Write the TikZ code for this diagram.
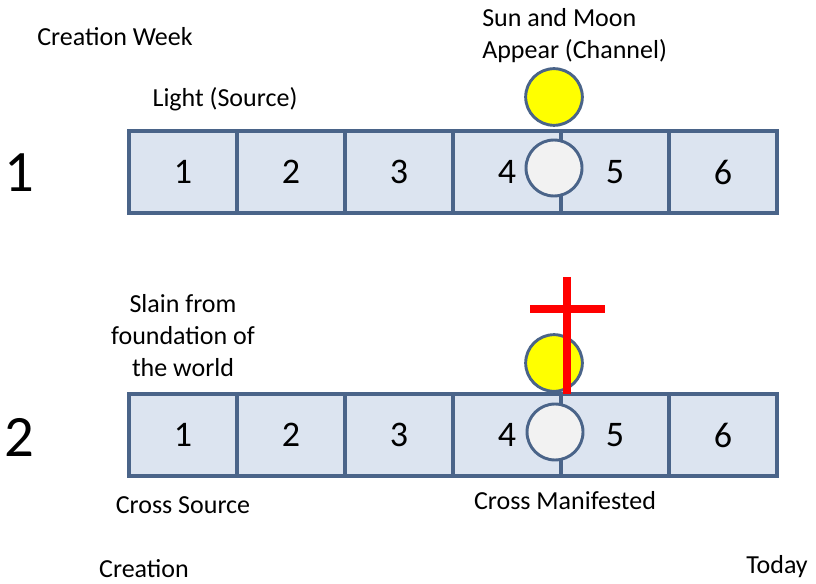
\documentclass[tikz,border=0pt]{standalone}
\usepackage{fontspec}
\setmainfont{Carlito}
\usepackage{tikz}
\usetikzlibrary{positioning}
\definecolor{WeekFill}{HTML}{DCE4F0}
\definecolor{WeekEdge}{HTML}{4A6489}
\definecolor{SunYellow}{HTML}{FFFF00}
\definecolor{MoonGrey}{HTML}{F2F2F2}
\definecolor{CrossRed}{HTML}{FF0000}
\tikzset{
  daycell/.style={
    draw=WeekEdge,
    fill=WeekFill,
    line width=2.4pt,
    minimum width=81pt,
    minimum height=61.5pt,
    inner sep=0pt,
    font=\fontsize{27}{30}\selectfont
  },
  sun/.style={circle,draw=WeekEdge,fill=SunYellow,line width=2.2pt,minimum size=42.5pt,inner sep=0pt},
  moon/.style={circle,draw=WeekEdge,fill=MoonGrey,line width=2.2pt,minimum size=42pt,inner sep=0pt},
  caption/.style={inner sep=0pt,align=center,font=\fontsize{19.5}{24}\selectfont},
  rowlabel/.style={inner sep=0pt,font=\fontsize{44}{48}\selectfont},
  crossline/.style={draw=CrossRed,line width=6pt}
}

\begin{document}
\begin{tikzpicture}[x=0.75pt,y=-0.75pt]
  \useasboundingbox (0,0) rectangle (816,584);

  % First week: light, then the sun and moon on day four.
  \node[daycell] (r1c1) at (183,172) {1};
  \node[daycell] (r1c2) at (291,172) {2};
  \node[daycell] (r1c3) at (399,172) {3};
  \node[daycell] (r1c4) at (507,172) {4};
  \node[daycell] (r1c5) at (615,172) {5};
  \node[daycell] (r1c6) at (723,172) {6};

  \node[moon] (moon1) at (554,168) {};
  \node[sun]  (sun1)  at (554,97)  {};

  % Second week: the cross over day four.
  \node[daycell] (r2c1) at (183,435) {1};
  \node[daycell] (r2c2) at (291,435) {2};
  \node[daycell] (r2c3) at (399,435) {3};
  \node[daycell] (r2c4) at (507,435) {4};
  \node[daycell] (r2c5) at (615,435) {5};
  \node[daycell] (r2c6) at (723,435) {6};

  \node[moon] (moon2) at (555,432) {};
  \node[sun]  (sun2)  at (554,363) {};

  \draw[crossline] (567,277) -- (567,394);
  \draw[crossline] (530,309) -- (605,309);

  % Labels.
  \node[rowlabel] (one) at (19,173) {1};
  \node[rowlabel] (two) at (19,437) {2};

  \node[caption] (week)      at (115,37)  {Creation Week};
  \node[caption,anchor=west,align=left] (channel) at (482,36) {Sun and Moon\\Appear (Channel)};
  \node[caption] (light)     at (225,99)  {Light (Source)};
  \node[caption] (slain)     at (183,336) {Slain from\\foundation of\\the world};
  \node[caption] (source)    at (183,505) {Cross Source};
  \node[caption] (manifest)  at (565,501) {Cross Manifested};
  \node[caption] (creation)  at (144,569) {Creation};
  \node[caption] (today)     at (777,567) {Today};
\end{tikzpicture}
\end{document}
